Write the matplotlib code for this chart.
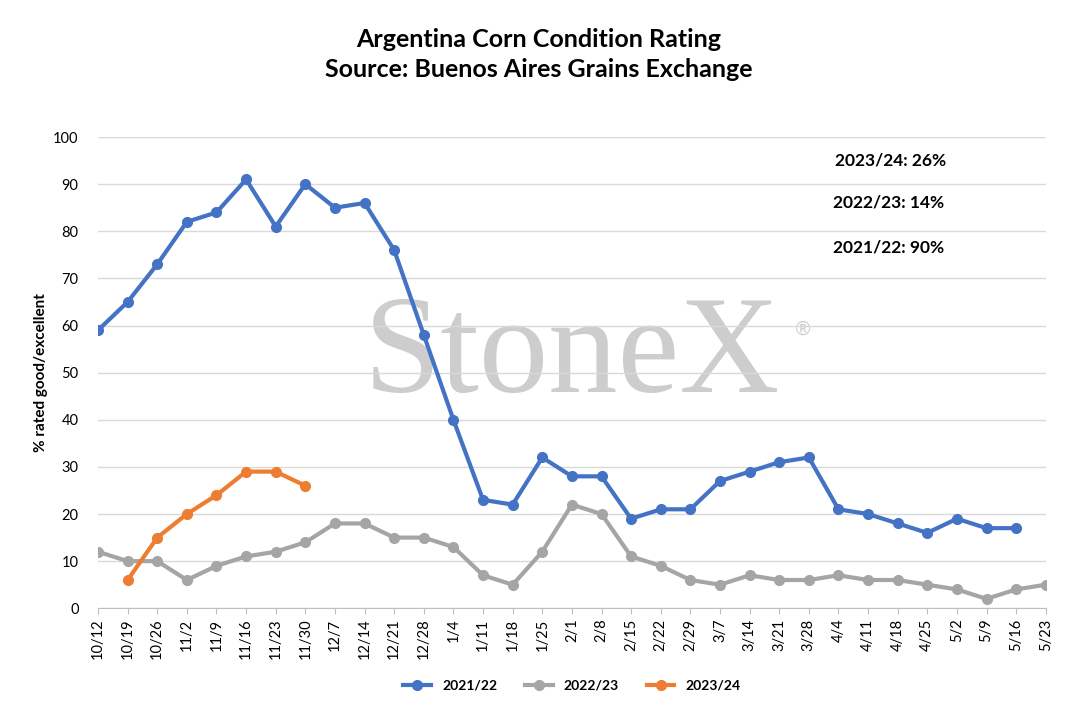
import numpy as np
import matplotlib.pyplot as plt

plt.rcParams['font.family'] = ['Lato', 'DejaVu Sans']

weeks = ['10/12', '10/19', '10/26', '11/2', '11/9', '11/16', '11/23', '11/30', '12/7', '12/14',
         '12/21', '12/28', '1/4', '1/11', '1/18', '1/25', '2/1', '2/8', '2/15', '2/22', '2/29',
         '3/7', '3/14', '3/21', '3/28', '4/4', '4/11', '4/18', '4/25', '5/2', '5/9', '5/16', '5/23']
s2122 = [59, 65, 73, 82, 84, 91, 81, 90, 85, 86, 76, 58, 40, 23, 22, 32, 28, 28, 19, 21, 21,
         27, 29, 31, 32, 21, 20, 18, 16, 19, 17, 17, np.nan]
s2223 = [12, 10, 10, 6, 9, 11, 12, 14, 18, 18, 15, 15, 13, 7, 5, 12, 22, 20, 11, 9, 6,
         5, 7, 6, 6, 7, 6, 6, 5, 4, 2, 4, 5]
s2324 = [np.nan, 6, 15, 20, 24, 29, 29, 26]

fig = plt.figure(figsize=(10.77, 7.25), dpi=100)
ax = fig.add_axes([0.091, 0.161, 0.880, 0.65])
x = np.arange(len(weeks))
kw = dict(lw=3, marker='o', ms=7)
ax.plot(x, s2122, color='#4472C4', label='2021/22', **kw)
ax.plot(x, s2223, color='#A5A5A5', label='2022/23', **kw)
ax.plot(x[:len(s2324)], s2324, color='#ED7D31', label='2023/24', **kw)

ax.set_xlim(0, len(weeks) - 1)
ax.set_ylim(0, 100)
ax.set_yticks(range(0, 101, 10))
ax.set_xticks(x)
ax.set_xticklabels(weeks, rotation=90, fontsize=10.5)
ax.tick_params(axis='y', labelsize=10.5, length=0, pad=14)
ax.tick_params(axis='x', length=4, color='#BFBFBF')
ax.grid(axis='y', color='#D9D9D9', lw=1)
ax.set_axisbelow(True)
for s in ['top', 'right', 'left']:
    ax.spines[s].set_visible(False)
ax.spines['bottom'].set_color('#BFBFBF')
ax.set_ylabel('% rated good/excellent', fontsize=11, fontweight='bold')

ax.text(0.5, 0.53, 'StoneX', transform=ax.transAxes, fontsize=100, family='Liberation Serif',
        color='#CDCDCD', ha='center', va='center', zorder=0)
ax.text(0.735, 0.58, '®', transform=ax.transAxes, fontsize=14, color='#CDCDCD', zorder=0)

for xv, yv, t in [(24.9, 95, '2023/24: 26%'), (24.8, 86, '2022/23: 14%'), (24.8, 76.5, '2021/22: 90%')]:
    ax.text(xv, yv, t, fontsize=12.5, fontweight='bold', ha='left', va='center')

fig.text(0.5, 0.925, 'Argentina Corn Condition Rating\nSource: Buenos Aires Grains Exchange',
         ha='center', va='center', fontsize=18, fontweight='bold', linespacing=1.35)
ax.legend(loc='upper center', bbox_to_anchor=(0.5, -0.125), ncol=3, frameon=False,
          prop={'size': 10, 'weight': 'bold'})

fig.savefig('out.png', dpi=100)
